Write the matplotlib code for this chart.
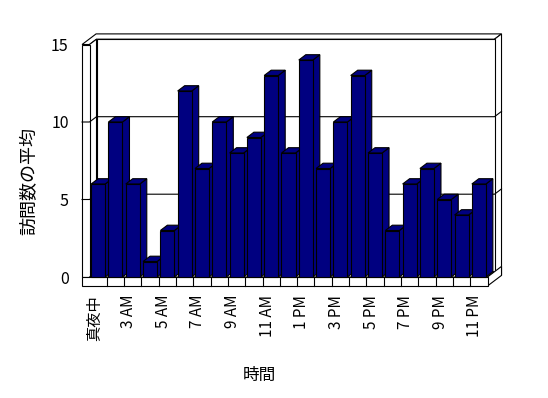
import matplotlib
matplotlib.use("Agg")
import matplotlib.pyplot as plt
from matplotlib.patches import Polygon

plt.rcParams['font.family'] = ['Noto Sans CJK JP', 'DejaVu Sans']

# データ
hours = ['真夜中', '1 AM', '3 AM', '4 AM', '5 AM', '6 AM', '7 AM', '8 AM',
         '9 AM', '10 AM', '11 AM', '12 PM', '1 PM', '2 PM', '3 PM', '4 PM',
         '5 PM', '6 PM', '7 PM', '8 PM', '9 PM', '10 PM', '11 PM']
visits = [6, 10, 6, 1, 3, 12, 7, 10, 8, 9, 13, 8, 14, 7, 10, 13, 8, 3, 6, 7, 5, 4, 6]
y_ticks = [0, 5, 10, 15]

navy = '#000080'
lw = 0.8
DX, DY = 0.405, 0.342      # 奥行き方向のずれ
SLAB = 0.43                # 左壁の厚さ
FLOOR = 0.58               # 床の厚さ
bw = 0.81                  # 棒の幅

fig = plt.figure(figsize=(5.48, 3.98), dpi=100)
ax = fig.add_axes([89.5 / 548, 1 - 277 / 398, 398 / 548, 232.5 / 398])
n = len(visits)
x0, x1 = -0.5, n - 0.5
ymax = 15
ax.set_xlim(x0, x1)
ax.set_ylim(0, ymax)
ax.patch.set_visible(False)
for s in ax.spines.values():
    s.set_visible(False)


def poly(pts, fc='white', z=1):
    ax.add_patch(Polygon(pts, closed=True, facecolor=fc, edgecolor='black',
                         linewidth=lw, clip_on=False, zorder=z))


def line(xs, ys, z=2):
    ax.plot(xs, ys, color='black', linewidth=lw, clip_on=False, zorder=z)


# 壁
xl = x0 - SLAB
poly([(x0 + DX, ymax + DY), (x1 + DX, ymax + DY), (x1 + 2 * DX, ymax + 2 * DY),
      (xl + 2 * DX, ymax + 2 * DY), (xl, ymax), (x0, ymax)])
poly([(x1 + DX, DY), (x1 + DX, ymax + DY), (x1 + 2 * DX, ymax + 2 * DY),
      (x1 + 2 * DX, 2 * DY - FLOOR)])
poly([(x0 + DX, DY), (x1 + DX, DY), (x1 + DX, ymax + DY), (x0 + DX, ymax + DY)])
poly([(x0, 0), (x0 + DX, DY), (x0 + DX, ymax + DY), (x0, ymax)])
poly([(xl, 0), (x0, 0), (x0, ymax), (xl, ymax)])
# 床
poly([(x0, 0), (x1, 0), (x1 + DX, DY), (x0 + DX, DY)])
poly([(x1, -FLOOR), (x1, 0), (x1 + 2 * DX, 2 * DY), (x1 + 2 * DX, 2 * DY - FLOOR)])
poly([(xl, -FLOOR), (x1, -FLOOR), (x1, 0), (xl, 0)])
for k in range(n - 1):
    line([k + 0.5, k + 0.5], [-FLOOR, 0])

# 目盛線
for v in y_ticks[1:-1]:
    line([xl, x0, x0 + DX, x1 + DX, x1 + 2 * DX], [v, v, v + DY, v + DY, v + 2 * DY])

# 棒
for i, v in enumerate(visits):
    z = 3 + i * 0.01
    l, r = i - bw / 2, i + bw / 2
    poly([(r, 0), (r, v), (r + DX, v + DY), (r + DX, DY)], fc=navy, z=z)
    poly([(l, v), (r, v), (r + DX, v + DY), (l + DX, v + DY)], fc=navy, z=z)
    poly([(l, 0), (r, 0), (r, v), (l, v)], fc=navy, z=z)

ax.set_yticks(y_ticks)
ax.set_yticklabels([str(t) for t in y_ticks], fontsize=11.5)
ax.tick_params(axis='y', length=0, pad=15)
ax.set_xticks([])

for i in range(0, n, 2):
    ax.annotate(hours[i], xy=(i, -FLOOR), xytext=(-4, -9), textcoords='offset pixels',
                rotation=90, ha='center', va='top', fontsize=11, annotation_clip=False)

ax.text(-0.152, 0.413, '訪問数の平均', transform=ax.transAxes, rotation=90,
        ha='center', va='center', fontsize=13)
ax.text(0.427, -0.4215, '時間', transform=ax.transAxes,
        ha='center', va='center', fontsize=12)

plt.savefig('out.png', dpi=100)
